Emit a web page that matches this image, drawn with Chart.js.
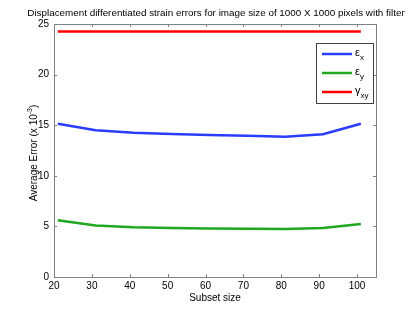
<!DOCTYPE html>
<html><head><meta charset="utf-8">
<script src="https://cdn.jsdelivr.net/npm/chart.js@4"></script>
<style>html,body{margin:0;padding:0;background:#fff}#wrap{width:415px;height:312px}</style>
</head><body><div id="wrap"><canvas id="c" width="415" height="312"></canvas></div>
<script>
const chartTitle = 'Displacement differentiated strain errors for image size of 1000 X 1000 pixels with filter';
const xLabel = 'Subset size';
const subsetSizes = [21, 31, 41, 51, 61, 71, 81, 91, 101];
const epsX = [15.15, 14.5, 14.25, 14.12, 14.02, 13.95, 13.86, 14.1, 15.15];
const epsY = [5.6, 5.08, 4.92, 4.85, 4.8, 4.78, 4.75, 4.85, 5.24];
const gammaXY = [24.25, 24.25, 24.25, 24.25, 24.25, 24.25, 24.25, 24.25, 24.25];
const xTicks = [20, 30, 40, 50, 60, 70, 80, 90, 100];
const yTicks = [0, 5, 10, 15, 20, 25];

const FONT = '"Liberation Sans", Arial, Helvetica, sans-serif';
const AXIS = '#808080';

function pts(ys){ return subsetSizes.map((x,i)=>({x:x,y:ys[i]})); }

const deco = {
  id:'deco',
  afterDraw(chart){
    const ctx = chart.ctx, a = chart.chartArea;
    const xs = chart.scales.x, ys = chart.scales.y;
    ctx.save();
    // box
    ctx.strokeStyle = AXIS; ctx.lineWidth = 1;
    ctx.strokeRect(Math.round(a.left)+0.5, Math.round(a.top)+0.5, Math.round(a.right-a.left), Math.round(a.bottom-a.top));
    // inward ticks
    const TL = 3;
    ctx.beginPath();
    xTicks.forEach(v=>{
      const px = Math.round(xs.getPixelForValue(v))+0.5;
      ctx.moveTo(px, a.bottom); ctx.lineTo(px, a.bottom-TL);
      ctx.moveTo(px, a.top); ctx.lineTo(px, a.top+TL);
    });
    yTicks.forEach(v=>{
      const py = Math.round(ys.getPixelForValue(v))+0.5;
      ctx.moveTo(a.left, py); ctx.lineTo(a.left+TL, py);
      ctx.moveTo(a.right, py); ctx.lineTo(a.right-TL, py);
    });
    ctx.stroke();
    // title
    ctx.fillStyle = '#000';
    ctx.font = '9.85px ' + FONT;
    ctx.textAlign = 'center'; ctx.textBaseline = 'middle';
    ctx.fillText(chartTitle, 216, 13);
    // y label with superscript
    ctx.save();
    ctx.translate(33, 153);
    ctx.rotate(-Math.PI/2);
    const t1 = 'Average Error (x 10', t2 = '-3', t3 = ')';
    ctx.font = '10px ' + FONT; const w1 = ctx.measureText(t1).width, w3 = ctx.measureText(t3).width;
    ctx.font = '7px ' + FONT; const w2 = ctx.measureText(t2).width;
    let x0 = -(w1+w2+w3)/2;
    ctx.textAlign = 'left'; ctx.textBaseline = 'alphabetic';
    ctx.font = '10px ' + FONT; ctx.fillText(t1, x0, 4);
    ctx.font = '7px ' + FONT; ctx.fillText(t2, x0+w1, -1);
    ctx.font = '10px ' + FONT; ctx.fillText(t3, x0+w1+w2, 4);
    ctx.restore();
    // legend
    const lx = 316, ly = 43, lw = 57, lh = 60;
    ctx.fillStyle = '#fff';
    ctx.fillRect(lx, ly, lw, lh);
    ctx.strokeStyle = '#404040'; ctx.lineWidth = 1;
    ctx.strokeRect(lx+0.5, ly+0.5, lw, lh);
    const items = chart.data.datasets.map(d=>({color:d.borderColor, main:d.legendMain, sub:d.legendSub}));
    const rows = [54, 73, 92];
    items.forEach((it,i)=>{
      const y = rows[i];
      ctx.strokeStyle = it.color; ctx.lineWidth = 2.5;
      ctx.beginPath(); ctx.moveTo(322, y); ctx.lineTo(352, y); ctx.stroke();
      ctx.fillStyle = '#000';
      ctx.textAlign = 'left'; ctx.textBaseline = 'alphabetic';
      ctx.font = '11px ' + FONT; ctx.fillText(it.main, 355, y+2);
      const mw = ctx.measureText(it.main).width;
      ctx.font = '8px ' + FONT; ctx.fillText(it.sub, 355+mw, y+6);
    });
    ctx.restore();
  }
};

new Chart(document.getElementById('c'), {
  type:'line',
  data:{
    datasets:[
      {label:'εx', legendMain:'ε', legendSub:'x', data:pts(epsX), borderColor:'#2a3cff', borderWidth:2.5, pointRadius:0, fill:false, tension:0},
      {label:'εy', legendMain:'ε', legendSub:'y', data:pts(epsY), borderColor:'#1fa81f', borderWidth:2.5, pointRadius:0, fill:false, tension:0},
      {label:'γxy', legendMain:'γ', legendSub:'xy', data:pts(gammaXY), borderColor:'#ff0000', borderWidth:2.5, pointRadius:0, fill:false, tension:0}
    ]
  },
  options:{
    responsive:false, animation:false, devicePixelRatio:1,
    layout:{padding:{top:24, right:39, left:0, bottom:0}},
    plugins:{legend:{display:false}, title:{display:false}, tooltip:{enabled:false}},
    scales:{
      x:{type:'linear', min:20, max:105,
        afterBuildTicks:s=>{ s.ticks = xTicks.map(v=>({value:v})); },
        afterFit:s=>{ s.height = 35; },
        grid:{display:false, drawTicks:false}, border:{display:false},
        ticks:{font:{family:FONT, size:10}, color:'#000', padding:3, maxRotation:0, autoSkip:false},
        title:{display:true, text:xLabel, font:{family:FONT, size:10}, color:'#000', padding:{top:0, bottom:8}}
      },
      y:{type:'linear', min:0, max:25,
        afterBuildTicks:s=>{ s.ticks = yTicks.map(v=>({value:v})); },
        afterFit:s=>{ s.width = 54; },
        grid:{display:false, drawTicks:false}, border:{display:false},
        ticks:{font:{family:FONT, size:10}, color:'#000', padding:5, autoSkip:false}
      }
    }
  },
  plugins:[deco]
});
</script></body></html>
